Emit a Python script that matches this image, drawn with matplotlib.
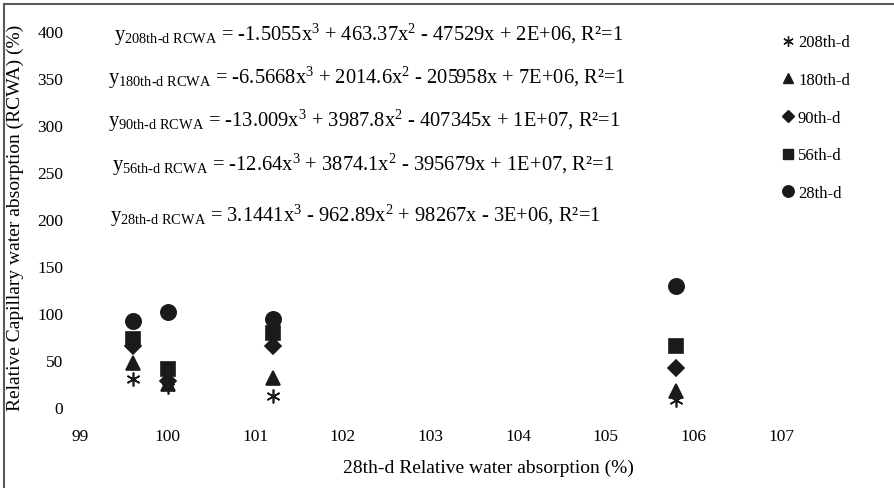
import matplotlib
matplotlib.use('Agg')
import matplotlib.pyplot as plt
from matplotlib.lines import Line2D

plt.rcParams['font.family'] = ['Liberation Serif', 'DejaVu Serif']
plt.rcParams['mathtext.fontset'] = 'custom'
plt.rcParams['mathtext.rm'] = 'Liberation Serif'
plt.rcParams['mathtext.it'] = 'Liberation Serif:italic'

# 28th-day relative water absorption (%)
rwa = [99.6, 100.0, 101.2, 105.8]

# relative capillary water absorption per curing age (%)
rcwa_28 = [92, 101, 94, 129]
rcwa_56 = [72, 40, 79, 65]
rcwa_90 = [65, 28, 65, 41]
rcwa_180 = [47, 24, 31, 17]
rcwa_208 = [30, 21, 12, 7]

ages = ['208th-d', '180th-d', '90th-d', '56th-d', '28th-d']
equations = [
    '-1.5055x$^{3}$ + 463.37x$^{2}$ - 47529x + 2E+06, R²=1',
    '-6.5668x$^{3}$ + 2014.6x$^{2}$ - 205958x + 7E+06, R²=1',
    '-13.009x$^{3}$ + 3987.8x$^{2}$ - 407345x + 1E+07, R²=1',
    '-12.64x$^{3}$ + 3874.1x$^{2}$ - 395679x + 1E+07, R²=1',
    '3.1441x$^{3}$ - 962.89x$^{2}$ + 98267x - 3E+06, R²=1',
]

W, H = 895, 489
fig = plt.figure(figsize=(W / 100, H / 100), dpi=100)
ax = fig.add_axes([80 / W, 1 - 408 / H, (781 - 80) / W, (408 - 32) / H])

star = (6, 2, 0)
series = [
    (rcwa_208, star, 10),
    (rcwa_180, '^', 10),
    (rcwa_90, 'D', 8),
    (rcwa_56, 's', 10),
    (rcwa_28, 'o', 11),
]
for vals, mk, ms in series:
    ax.plot(rwa, vals, linestyle='none', marker=mk, markersize=ms,
            color='#1a1a1a', markeredgecolor='#1a1a1a', markeredgewidth=1.2)

ax.set_xlim(99, 107)
ax.set_ylim(0, 400)
ax.set_xticks(range(99, 108))
ax.set_yticks(range(0, 401, 50))
ax.tick_params(length=0, labelsize=12.5)
ax.tick_params(axis='x', pad=15)
ax.tick_params(axis='y', pad=12)
for s in ax.spines.values():
    s.set_visible(False)
ax.patch.set_alpha(0)

fig.text(488 / W, 1 - 468 / H, '28th-d Relative water absorption (%)',
         ha='center', va='center', fontsize=14)
fig.text(15 / W, 1 - 218 / H, 'Relative Capillary water absorption (RCWA) (%)',
         ha='center', va='center', rotation=90, fontsize=14)

# trendline equations
eq_rows = [(114, 35), (108, 78), (108, 121), (112, 165), (110, 216)]
for (x, y), age, eq in zip(eq_rows, ages, equations):
    fig.text(x / W, 1 - y / H,
             'y' + '$_{\\mathregular{' + age.replace('-', '\u2010') + '\\ RCWA}}$ = ' + eq,
             ha='left', va='center', fontsize=14.8)

handles = [Line2D([], [], linestyle='none', marker=mk, markersize=ms * 0.75,
                  color='#1a1a1a', markeredgewidth=1.0)
           for _, mk, ms in series]
fig.legend(handles, ages, loc='upper left', bbox_to_anchor=(773 / W, 1 - 27 / H),
           frameon=False, fontsize=12, handlelength=0.8, handletextpad=0.2,
           labelspacing=1.3, borderpad=0)

# outer chart border
fig.add_artist(Line2D([4 / W, 4 / W], [0, 1 - 5 / H], color='#5a5a5a', lw=1.5))
fig.add_artist(Line2D([4 / W, 1], [1 - 5 / H, 1 - 5 / H], color='#5a5a5a', lw=1.5))

fig.savefig('out.png', dpi=100)
